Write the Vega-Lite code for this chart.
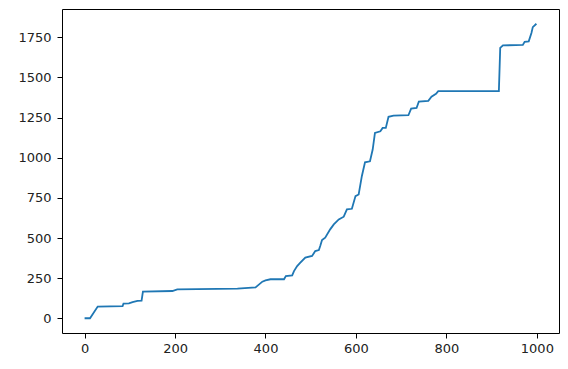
{
  "$schema": "https://vega.github.io/schema/vega-lite/v6.json",
  "width": 497,
  "height": 324,
  "autosize": "none",
  "padding": {"left": 62, "top": 9, "right": 9, "bottom": 36},
  "background": "white",
  "config": {
    "view": {"stroke": "#000", "strokeWidth": 1},
    "axis": {
      "grid": false,
      "domain": false,
      "tickColor": "#000",
      "tickSize": 5,
      "tickWidth": 1,
      "labelFont": "DejaVu Sans",
      "labelFontSize": 13,
      "labelColor": "#222",
      "format": "d",
      "title": null
    }
  },
  "data": {
    "values": [
      {"x": 0, "y": 0}, {"x": 12, "y": 0}, {"x": 29, "y": 73}, {"x": 84, "y": 76},
      {"x": 86, "y": 91}, {"x": 98, "y": 93}, {"x": 106, "y": 101}, {"x": 117, "y": 108},
      {"x": 126, "y": 110}, {"x": 129, "y": 166}, {"x": 194, "y": 170}, {"x": 205, "y": 180},
      {"x": 338, "y": 185}, {"x": 378, "y": 192}, {"x": 393, "y": 228}, {"x": 400, "y": 236},
      {"x": 411, "y": 243}, {"x": 441, "y": 243}, {"x": 445, "y": 263}, {"x": 459, "y": 267},
      {"x": 463, "y": 294}, {"x": 470, "y": 325}, {"x": 477, "y": 346}, {"x": 488, "y": 378},
      {"x": 503, "y": 388}, {"x": 510, "y": 419}, {"x": 518, "y": 425}, {"x": 521, "y": 450},
      {"x": 525, "y": 487}, {"x": 532, "y": 502}, {"x": 543, "y": 554}, {"x": 551, "y": 585},
      {"x": 562, "y": 616}, {"x": 573, "y": 633}, {"x": 580, "y": 678}, {"x": 591, "y": 682},
      {"x": 599, "y": 761}, {"x": 606, "y": 771}, {"x": 613, "y": 885}, {"x": 620, "y": 972},
      {"x": 631, "y": 978}, {"x": 637, "y": 1051}, {"x": 642, "y": 1155}, {"x": 654, "y": 1165},
      {"x": 659, "y": 1186}, {"x": 666, "y": 1186}, {"x": 672, "y": 1255}, {"x": 683, "y": 1263},
      {"x": 716, "y": 1265}, {"x": 722, "y": 1306}, {"x": 734, "y": 1310}, {"x": 739, "y": 1350},
      {"x": 760, "y": 1355}, {"x": 767, "y": 1380}, {"x": 777, "y": 1398}, {"x": 782, "y": 1415},
      {"x": 916, "y": 1415}, {"x": 919, "y": 1684}, {"x": 925, "y": 1700}, {"x": 969, "y": 1703},
      {"x": 973, "y": 1722}, {"x": 982, "y": 1725}, {"x": 988, "y": 1777}, {"x": 991, "y": 1814},
      {"x": 999, "y": 1835}
    ]
  },
  "mark": {"type": "line", "color": "#1f77b4", "strokeWidth": 1.8, "clip": true},
  "encoding": {
    "x": {
      "field": "x", "type": "quantitative",
      "scale": {"domain": [-49.95, 1048.95], "nice": false, "zero": false},
      "axis": {"values": [0, 200, 400, 600, 800, 1000], "labelPadding": 4}
    },
    "y": {
      "field": "y", "type": "quantitative",
      "scale": {"domain": [-91.75, 1926.75], "nice": false, "zero": false},
      "axis": {"values": [0, 250, 500, 750, 1000, 1250, 1500, 1750], "labelPadding": 6}
    }
  }
}
